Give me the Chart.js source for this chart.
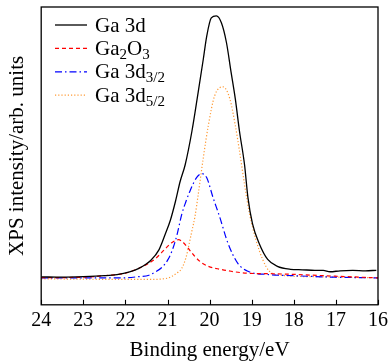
<!DOCTYPE html>
<html>
<head>
<meta charset="utf-8">
<script src="https://cdn.jsdelivr.net/npm/chart.js@4/dist/chart.umd.min.js"></script>
<style>
  html, body { margin: 0; padding: 0; background: #fff; }
  #wrap { width: 392px; height: 363px; }
</style>
</head>
<body>
<div id="wrap"><canvas id="xps"></canvas></div>
<script>
// ========= Data (binding energy in eV, intensity in arb. units) =========
const ga3dE = [24, 23.5, 23, 22.5, 22.2, 21.9, 21.68, 21.4, 21.2, 21.05, 20.93, 20.81, 20.7, 20.58, 20.42, 20.27, 20.15, 20.07, 19.96, 19.84, 19.72, 19.6, 19.49, 19.39, 19.29, 19.17, 19.09, 18.98, 18.82, 18.62, 18.39, 18.08, 17.8, 17.5, 17.3, 17.14, 16.9, 16.6, 16.3, 16.04];
const ga3dI = [28.3, 28, 28.5, 29.5, 30.7, 33.5, 37, 45, 56, 72, 86, 105, 125, 142, 176, 216, 249, 272, 291, 293, 286, 266, 236, 209, 176, 142, 109, 82, 62, 46, 39, 36, 35.5, 35, 35, 33.5, 34.5, 35, 34.5, 35];

const ga2o3E = [24, 23, 22.46, 22, 21.68, 21.45, 21.28, 21.05, 20.9, 20.74, 20.62, 20.54, 20.35, 20.2, 20.03, 19.75, 19.49, 19.09, 18.5, 17.92, 17, 16];
const ga2o3I = [27.5, 28, 29.7, 32, 37, 42, 47, 57, 63, 66, 63, 59, 49, 43, 39, 36, 34, 32, 31.5, 30.7, 29, 27.3];

const d32E = [24, 23, 22.07, 21.7, 21.44, 21.3, 21.13, 21, 20.89, 20.78, 20.66, 20.56, 20.46, 20.31, 20.19, 20.07, 19.92, 19.76, 19.56, 19.33, 19.09, 18.62, 18, 17, 16];
const d32I = [27.3, 27.3, 27.3, 28.5, 30, 33, 38, 45, 55, 70, 92, 105, 116, 129, 133, 129, 109, 89, 62, 42, 34, 30.7, 29.5, 28, 27.3];

const d52E = [24, 23, 22, 21.44, 21, 20.89, 20.75, 20.66, 20.56, 20.5, 20.42, 20.35, 20.27, 20.15, 20.03, 19.88, 19.68, 19.52, 19.39, 19.29, 19.17, 19.05, 18.9, 18.74, 18.58, 18.31, 17.5, 16];
const d52I = [26.3, 26, 25.7, 25.7, 27, 29, 33, 37, 48, 59, 75, 89, 112, 149, 182, 212, 221, 209, 182, 156, 122, 92, 66, 46, 34, 30, 28.5, 27.3];

const xTicks = [24, 23, 22, 21, 20, 19, 18, 17, 16];
const seriesLabels = ["Ga 3d", "Ga_{2}O_{3}", "Ga 3d_{3/2}", "Ga 3d_{5/2}"];

const toPts = (xs, ys) => xs.map((x, i) => ({ x, y: ys[i] }));

const FONT = "'Liberation Serif', 'Times New Roman', serif";

// ========= Plugins =========
const frame = {
  id: "frame",
  afterDatasetsDraw(chart) {
    const { ctx, chartArea: a, scales: { x } } = chart;
    ctx.save();
    ctx.strokeStyle = "#000";
    ctx.lineWidth = 1.3;
    ctx.strokeRect(a.left, a.top, a.right - a.left, a.bottom - a.top);
    // inward ticks on bottom axis
    ctx.lineWidth = 1.1;
    xTicks.forEach(v => {
      const px = Math.round(x.getPixelForValue(v)) + 0.5;
      ctx.beginPath();
      ctx.moveTo(px, a.bottom);
      ctx.lineTo(px, a.bottom - 5);
      ctx.stroke();
    });
    ctx.restore();
  }
};

function drawRich(ctx, label, x, y) {
  const parts = label.split(/_\{([^}]*)\}/);
  parts.forEach((p, i) => {
    if (!p) return;
    const sub = i % 2 === 1;
    ctx.font = (sub ? "15px " : "21px ") + FONT;
    ctx.fillText(p, x, sub ? y + 4 : y);
    x += ctx.measureText(p).width;
  });
}

const richLegend = {
  id: "richLegend",
  afterDraw(chart) {
    const { ctx } = chart;
    ctx.save();
    ctx.fillStyle = "#000";
    ctx.textBaseline = "alphabetic";
    chart.data.datasets.forEach((ds, i) => {
      const ly = 25 + i * 23.4;
      ctx.strokeStyle = ds.borderColor;
      ctx.lineWidth = ds.borderWidth;
      ctx.setLineDash(ds.borderDash || []);
      ctx.beginPath();
      ctx.moveTo(55, ly);
      ctx.lineTo(87, ly);
      ctx.stroke();
      ctx.setLineDash([]);
      drawRich(ctx, seriesLabels[i], 95, ly + 6.5);
    });
    ctx.restore();
  }
};

// ========= Chart =========
new Chart(document.getElementById("xps"), {
  type: "line",
  data: {
    datasets: [
      { data: toPts(ga3dE, ga3dI), borderColor: "#000000", borderWidth: 1.3 },
      { data: toPts(ga2o3E, ga2o3I), borderColor: "#ff0000", borderWidth: 1.2, borderDash: [4, 3] },
      { data: toPts(d32E, d32I), borderColor: "#0000ff", borderWidth: 1.2, borderDash: [7, 3, 1.5, 3] },
      { data: toPts(d52E, d52I), borderColor: "#ff9933", borderWidth: 1.2, borderDash: [1.2, 2] }
    ]
  },
  options: {
    responsive: true,
    maintainAspectRatio: false,
    animation: false,
    layout: { padding: { left: 0, top: 7, right: 10, bottom: 0 } },
    elements: {
      point: { radius: 0 },
      line: { cubicInterpolationMode: "monotone", fill: false }
    },
    plugins: { legend: { display: false }, tooltip: { enabled: false } },
    scales: {
      x: {
        type: "linear",
        reverse: true,
        min: 16,
        max: 24,
        afterBuildTicks: s => { s.ticks = xTicks.map(v => ({ value: v })); },
        grid: { display: false, drawTicks: false },
        border: { display: false },
        ticks: { color: "#000", padding: 4, font: { family: FONT, size: 20 } },
        title: {
          display: true, text: "Binding energy/eV", color: "#000",
          font: { family: FONT, size: 21 }, padding: { top: 1, bottom: 0 }
        }
      },
      y: {
        min: 0,
        max: 302,
        grid: { display: false, drawTicks: false },
        border: { display: false },
        ticks: { display: false },
        title: {
          display: true, text: "XPS intensity/arb. units", color: "#000",
          font: { family: FONT, size: 21 }, padding: { top: 5, bottom: 11 }
        }
      }
    }
  },
  plugins: [frame, richLegend]
});
</script>
</body>
</html>
